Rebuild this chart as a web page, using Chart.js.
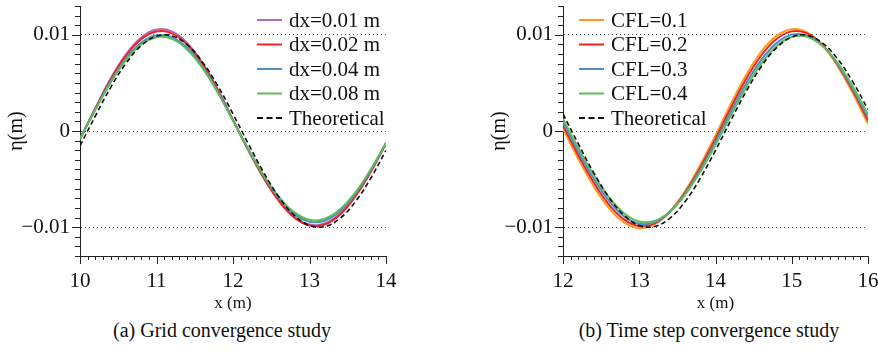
<!DOCTYPE html>
<html>
<head>
<meta charset="utf-8">
<script src="https://cdn.jsdelivr.net/npm/chart.js@4/dist/chart.umd.min.js"></script>
<style>
  body { margin: 0; background: #fff; width: 878px; height: 358px; position: relative; overflow: hidden; }
  canvas { position: absolute; top: 0; }
  #chartA { left: 0; }
  #chartB { left: 483px; }
  .caption { position: absolute; top: 318px; width: 440px; line-height: 24px; text-align: center;
             font-family: "Liberation Serif", "Times New Roman", Tinos, "DejaVu Serif", serif; font-size: 20px; color: #111; }
</style>
</head>
<body>
<canvas id="chartA" width="440" height="318"></canvas>
<canvas id="chartB" width="410" height="318"></canvas>
<div class="caption" style="left:2px">(a) Grid convergence study</div>
<div class="caption" style="left:489px">(b) Time step convergence study</div>
<script>
// ---- data ----
const xLeft = [10.0, 10.2, 10.4, 10.6, 10.8, 11.0, 11.2, 11.4, 11.6, 11.8, 12.0,
               12.2, 12.4, 12.6, 12.8, 13.0, 13.2, 13.4, 13.6, 13.8, 14.0];
const xRight = [12.0, 12.2, 12.4, 12.6, 12.8, 13.0, 13.2, 13.4, 13.6, 13.8, 14.0,
                14.2, 14.4, 14.6, 14.8, 15.0, 15.2, 15.4, 15.6, 15.8, 16.0];

// (a) grid convergence
const dx001 = [-0.00084, 0.00237, 0.00543, 0.00796, 0.00972, 0.01055, 0.01036, 0.00917, 0.00709, 0.00434, 0.00116,
               -0.00197, -0.00482, -0.00720, -0.00890, -0.00973, -0.00962, -0.00859, -0.00673, -0.00422, -0.00130];
const dx002 = [-0.00085, 0.00233, 0.00532, 0.00781, 0.00954, 0.01035, 0.01016, 0.00900, 0.00696, 0.00425, 0.00114,
               -0.00199, -0.00487, -0.00728, -0.00899, -0.00983, -0.00972, -0.00868, -0.00679, -0.00426, -0.00131];
const dx004 = [-0.00082, 0.00224, 0.00512, 0.00751, 0.00917, 0.00995, 0.00977, 0.00865, 0.00669, 0.00409, 0.00109,
               -0.00191, -0.00467, -0.00698, -0.00862, -0.00943, -0.00933, -0.00833, -0.00652, -0.00409, -0.00126];
const dx008 = [-0.00080, 0.00219, 0.00502, 0.00736, 0.00899, 0.00975, 0.00958, 0.00848, 0.00656, 0.00401, 0.00107,
               -0.00187, -0.00457, -0.00684, -0.00844, -0.00923, -0.00913, -0.00815, -0.00638, -0.00400, -0.00123];
const theoryA = [-0.00155, 0.00155, 0.00451, 0.00703, 0.00887, 0.00986, 0.00990, 0.00898, 0.00719, 0.00472, 0.00178,
                 -0.00132, -0.00430, -0.00686, -0.00876, -0.00982, -0.00993, -0.00908, -0.00735, -0.00492, -0.00201];

// (b) time step convergence
const cfl01 = [0.00024, -0.00289, -0.00571, -0.00800, -0.00950, -0.01009, -0.00971, -0.00839, -0.00626, -0.00353, -0.00046,
               0.00279, 0.00579, 0.00824, 0.00989, 0.01058, 0.01026, 0.00895, 0.00677, 0.00394, 0.00073];
const cfl02 = [0.00059, -0.00250, -0.00531, -0.00762, -0.00919, -0.00988, -0.00961, -0.00842, -0.00641, -0.00379, -0.00080,
               0.00239, 0.00538, 0.00785, 0.00956, 0.01036, 0.01015, 0.00897, 0.00692, 0.00420, 0.00108];
const cfl03 = [0.00093, -0.00212, -0.00492, -0.00724, -0.00887, -0.00965, -0.00949, -0.00842, -0.00653, -0.00402, -0.00112,
               0.00197, 0.00491, 0.00739, 0.00914, 0.01002, 0.00993, 0.00888, 0.00697, 0.00440, 0.00140];
const cfl04 = [0.00125, -0.00175, -0.00453, -0.00687, -0.00855, -0.00941, -0.00936, -0.00840, -0.00664, -0.00424, -0.00142,
               0.00159, 0.00451, 0.00700, 0.00881, 0.00977, 0.00979, 0.00886, 0.00708, 0.00462, 0.00171];
const theoryB = [0.00178, -0.00132, -0.00430, -0.00686, -0.00876, -0.00982, -0.00993, -0.00908, -0.00735, -0.00492, -0.00201,
                 0.00109, 0.00409, 0.00669, 0.00865, 0.00977, 0.00995, 0.00917, 0.00751, 0.00512, 0.00224];

const labelsA = ["dx=0.01 m", "dx=0.02 m", "dx=0.04 m", "dx=0.08 m", "Theoretical"];
const labelsB = ["CFL=0.1", "CFL=0.2", "CFL=0.3", "CFL=0.4", "Theoretical"];

const yTickVals = [-0.01, 0, 0.01];
const yTickLabels = ["\u22120.01", "0", "0.01"];
const xTicksA = [10, 11, 12, 13, 14];
const xTicksB = [12, 13, 14, 15, 16];

const FONT = "'Liberation Serif', 'Times New Roman', Tinos, 'DejaVu Serif', serif";
const X_MINOR = 0.1;
const Y_MINOR = 0.001;

// minor + major ticks pointing outward
const axisTicks = {
  id: "axisTicks",
  afterDraw(chart) {
    const { ctx, scales: { x, y } } = chart;
    ctx.save();
    ctx.strokeStyle = "#222";
    ctx.lineWidth = 1;
    ctx.beginPath();
    const nx = Math.round((x.max - x.min) / X_MINOR);
    for (let i = 0; i <= nx; i++) {
      const px = Math.round(x.getPixelForValue(x.min + i * X_MINOR)) + 0.5;
      const len = i % 10 === 0 ? 8 : 4;
      ctx.moveTo(px, x.top);
      ctx.lineTo(px, x.top + len);
    }
    const ny = Math.round((y.max - y.min) / Y_MINOR);
    for (let i = 0; i <= ny; i++) {
      const v = y.min + i * Y_MINOR;
      const py = Math.round(y.getPixelForValue(v)) + 0.5;
      const major = Math.abs(v * 100 - Math.round(v * 100)) < 1e-6;
      ctx.moveTo(y.right - (major ? 8 : 5), py);
      ctx.lineTo(y.right, py);
    }
    ctx.stroke();
    ctx.restore();
  }
};

// legend drawn inside the plot area
const insideLegend = {
  id: "insideLegend",
  afterDraw(chart, args, opts) {
    const { ctx, chartArea } = chart;
    const x0 = chartArea.left + opts.offsetX;
    chart.data.datasets.forEach((ds, i) => {
      const yy = chartArea.top + opts.offsetY + i * opts.rowHeight;
      ctx.save();
      ctx.strokeStyle = ds.borderColor;
      ctx.lineWidth = 2;
      ctx.setLineDash(ds.borderDash ? [6, 3.5] : []);
      ctx.beginPath();
      ctx.moveTo(x0, yy);
      ctx.lineTo(x0 + 25, yy);
      ctx.stroke();
      ctx.setLineDash([]);
      ctx.fillStyle = "#111";
      ctx.font = "21px " + FONT;
      ctx.textBaseline = "middle";
      ctx.fillText(ds.label, x0 + 32, yy + 1);
      ctx.restore();
    });
  }
};

function line(label, xs, ys, color, order, dashed) {
  return {
    label: label,
    data: xs.map((x, i) => ({ x: x, y: ys[i] })),
    borderColor: color,
    backgroundColor: color,
    borderWidth: dashed ? 1.6 : 2,
    borderDash: dashed ? [5, 3] : undefined,
    pointRadius: 0,
    tension: 0.4,
    fill: false,
    order: order
  };
}

function makeChart(id, datasets, xMin, xMax, xTicks, padRight, legendX) {
  return new Chart(document.getElementById(id), {
    type: "line",
    data: { datasets: datasets },
    options: {
      responsive: false,
      animation: false,
      layout: { padding: { top: 6, right: padRight, left: 0, bottom: 0 } },
      scales: {
        x: {
          type: "linear",
          min: xMin,
          max: xMax,
          afterBuildTicks: s => { s.ticks = xTicks.map(v => ({ value: v })); },
          afterFit: s => { s.height = 62; s.paddingLeft = 0; s.paddingRight = 0; },
          grid: { display: false, drawTicks: false },
          border: { display: true, color: "#222", width: 1 },
          ticks: {
            padding: 13, color: "#111", maxRotation: 0, autoSkip: false,
            font: { family: FONT, size: 21 },
            callback: (v, i) => String(xTicks[i])
          },
          title: {
            display: true, text: "x (m)", color: "#111",
            font: { family: FONT, size: 17 }, padding: { top: 0, bottom: 4 }
          }
        },
        y: {
          type: "linear",
          min: -0.013,
          max: 0.013,
          afterBuildTicks: s => { s.ticks = yTickVals.map(v => ({ value: v })); },
          afterFit: s => { s.width = 80; s.paddingTop = 0; s.paddingBottom = 0; },
          grid: { drawTicks: false, color: "#555", lineWidth: 1 },
          border: { display: true, color: "#222", width: 1, dash: [1, 3] },
          ticks: {
            padding: 10, color: "#111",
            font: { family: FONT, size: 21 },
            callback: (v, i) => yTickLabels[i]
          },
          title: {
            display: true, text: "η(m)", color: "#111",
            font: { family: FONT, size: 20 }, padding: { top: 5, bottom: 0 }
          }
        }
      },
      plugins: {
        legend: { display: false },
        tooltip: { enabled: false },
        insideLegend: { offsetX: legendX, offsetY: 14, rowHeight: 24.5 }
      }
    },
    plugins: [axisTicks, insideLegend]
  });
}

makeChart("chartA", [
  line(labelsA[0], xLeft, dx001, "#a66cc0", 4),
  line(labelsA[1], xLeft, dx002, "#f0231f", 3),
  line(labelsA[2], xLeft, dx004, "#4a8fc8", 2),
  line(labelsA[3], xLeft, dx008, "#5fba58", 1),
  line(labelsA[4], xLeft, theoryA, "#111111", 0, true)
], 10, 14, xTicksA, 54, 177);

makeChart("chartB", [
  line(labelsB[0], xRight, cfl01, "#ff9a1f", 4),
  line(labelsB[1], xRight, cfl02, "#f0231f", 3),
  line(labelsB[2], xRight, cfl03, "#4a8fc8", 2),
  line(labelsB[3], xRight, cfl04, "#5fba58", 1),
  line(labelsB[4], xRight, theoryB, "#111111", 0, true)
], 12, 16, xTicksB, 25, 16);
</script>
</body>
</html>
